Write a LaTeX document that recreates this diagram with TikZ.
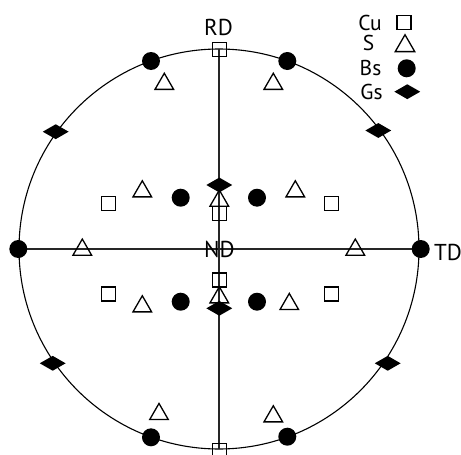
\documentclass[tikz,border=0pt]{standalone}
\usepackage{fontspec}
\setmainfont{PT Sans}
\usetikzlibrary{shapes.geometric}
\begin{document}
\begin{tikzpicture}[x=1pt,y=-1pt,
 sq/.style={draw,rectangle,minimum size=14pt,inner sep=0pt,line width=1.3pt},
 tri/.style={draw,regular polygon,regular polygon sides=3,minimum size=21.5pt,inner sep=0pt,line width=1.3pt},
 dot/.style={fill,circle,minimum size=18pt,inner sep=0pt},
 dia/.style={fill,diamond,minimum width=26pt,minimum height=15pt,inner sep=0pt},
 lbl/.style={font=\fontsize{23}{23}\selectfont,inner sep=0pt},
 leg/.style={font=\fontsize{21.5}{21.5}\selectfont,inner sep=0pt},
 axis/.style={line width=1.3pt,draw=black!85}]
\useasboundingbox (0,0) rectangle (461,455);
\coordinate (O) at (219,249);
\coordinate (N) at (219,49);
\coordinate (S) at (219,449);
\coordinate (W) at (19,249);
\coordinate (E) at (419,249);
\draw[line width=1.1pt] (O) circle (200pt);
\draw[axis] (N) -- (S);
\draw[axis] (W) -- (E);
% labels
\node[lbl] (rd) at (218.5,27) {RD};
\node[lbl,anchor=west] (td) at (434,252) {TD};
\node[lbl] (nd) at (219.3,249.5) {ND};
% outer ring
\node[sq] (cu1) at (219.3,49.3) {};
\node[dot] (bs1) at (151,61) {};
\node[dot] (bs2) at (287.3,61) {};
\node[tri] (s1) at (164.3,84) {};
\node[tri] (s2) at (273.3,84) {};
\node[dia] (gs1) at (55.7,131.7) {};
\node[dia] (gs2) at (378.3,130.5) {};
\node[dia] (gs3) at (52.7,363.3) {};
\node[dia] (gs4) at (387.7,363.3) {};
% inner upper
\node[dia] (gs5) at (219.3,185) {};
\node[tri] (s3) at (219.3,200.8) {};
\node[sq] (cu2) at (219.3,213.3) {};
\node[dot] (bs3) at (180.7,197.7) {};
\node[dot] (bs4) at (257,197.7) {};
\node[tri] (s4) at (142.3,191.5) {};
\node[tri] (s5) at (295.3,191.5) {};
\node[sq] (cu3) at (108.7,203.3) {};
\node[sq] (cu4) at (331.3,203.3) {};
% equator
\node[dot] (bs5) at (18.3,249) {};
\node[dot] (bs6) at (420.7,249) {};
\node[tri] (s6) at (82.3,249.8) {};
\node[tri] (s7) at (355.3,249.8) {};
% inner lower
\node[sq] (cu5) at (219.3,280) {};
\node[tri] (s8) at (219.3,297.5) {};
\node[dia] (gs6) at (219.3,308.3) {};
\node[dot] (bs7) at (180.7,301.7) {};
\node[dot] (bs8) at (257,301.7) {};
\node[tri] (s9) at (142.3,306.5) {};
\node[tri] (s10) at (289.3,304.2) {};
\node[sq] (cu6) at (108.7,294) {};
\node[sq] (cu7) at (331.3,294) {};
% bottom
\node[tri] (s11) at (159,414.2) {};
\node[tri] (s12) at (273.3,416.5) {};
\node[dot] (bs9) at (151,437.3) {};
\node[dot] (bs10) at (287.3,436.7) {};
\node[sq] (cu8) at (219.3,450.7) {};
% legend
\node[leg] (lcu) at (370,22.7) {Cu};
\node[leg] (ls) at (368.5,43.3) {S};
\node[leg] (lbs) at (370.5,68.3) {Bs};
\node[leg] (lgs) at (371.5,91.7) {Gs};
\node[sq] (kcu) at (404,22.7) {};
\node[tri,minimum size=22.5pt] (ks) at (405,46) {};
\node[dot] (kbs) at (406.7,68.3) {};
\node[dia] (kgs) at (407.3,91.7) {};
\end{tikzpicture}
\end{document}
